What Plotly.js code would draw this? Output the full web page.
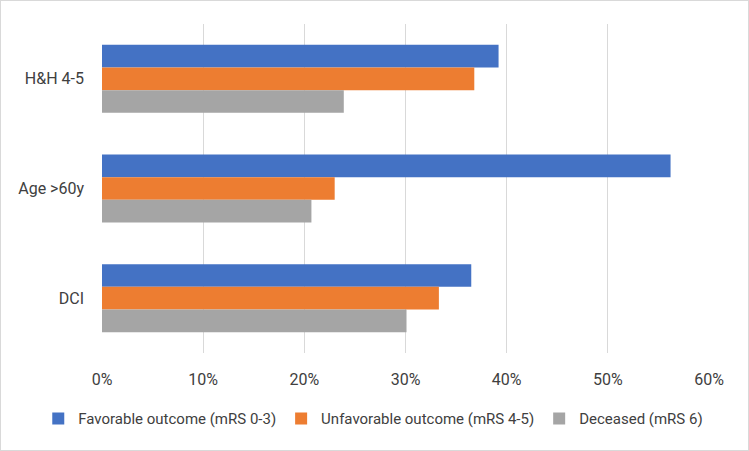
<!DOCTYPE html>
<html>
<head>
<meta charset="utf-8">
<script src="https://cdn.plot.ly/plotly-3.0.1.min.js"></script>
<style>
html,body{margin:0;padding:0;background:#fff;}
#chart{width:749px;height:451px;box-sizing:border-box;border:1px solid #d9d9d9;}
</style>
</head>
<body>
<div id="chart"></div>
<script>
const categories = ["H&H 4-5", "Age >60y", "DCI"];
const favorable = [39.2, 56.2, 36.5];
const unfavorable = [36.8, 23.0, 33.3];
const deceased = [23.9, 20.7, 30.1];
const seriesNames = ["Favorable outcome (mRS 0-3)", "Unfavorable outcome (mRS 4-5)", "Deceased (mRS 6)"];
const tickVals = [0, 10, 20, 30, 40, 50, 60];
const tickText = ["0%", "10%", "20%", "30%", "40%", "50%", "60%"];

const colors = ["#4472c4", "#ed7d31", "#a5a5a5"];
const data = [favorable, unfavorable, deceased].map((vals, i) => ({
  type: "bar",
  orientation: "h",
  name: seriesNames[i],
  y: categories,
  x: vals,
  marker: {color: colors[i]},
  hoverinfo: "none"
}));

const fontFam = "Roboto, 'Open Sans', sans-serif";
const layout = {
  width: 747, height: 449,
  margin: {l: 101, r: 39, t: 23, b: 97, autoexpand: false},
  paper_bgcolor: "#fff", plot_bgcolor: "#fff",
  barmode: "group",
  bargap: 0.38,
  bargroupgap: 0,
  font: {family: fontFam, size: 16, color: "#404040"},
  xaxis: {
    range: [0, 60],
    tickvals: tickVals, ticktext: tickText,
    tickangle: 0,
    showgrid: true, gridcolor: "#d9d9d9", gridwidth: 1,
    zeroline: false, showline: false, ticks: "",
    ticklabelstandoff: 15,
    tickfont: {family: fontFam, size: 16, color: "#404040"},
    automargin: false,
    fixedrange: true
  },
  yaxis: {
    autorange: "reversed",
    showgrid: false, zeroline: false, showline: false, ticks: "",
    ticklabelstandoff: 17,
    tickfont: {family: fontFam, size: 16, color: "#404040"},
    automargin: false,
    fixedrange: true
  },
  legend: {
    orientation: "h", x: -0.105, xanchor: "left",
    y: -0.2, yanchor: "middle",
    font: {family: fontFam, size: 15, color: "#404040"},
    itemwidth: 30, tracegroupgap: 0,
    traceorder: "normal"
  },
  showlegend: true
};

Plotly.newPlot("chart", data, layout, {displayModeBar: false, staticPlot: true});
</script>
</body>
</html>
